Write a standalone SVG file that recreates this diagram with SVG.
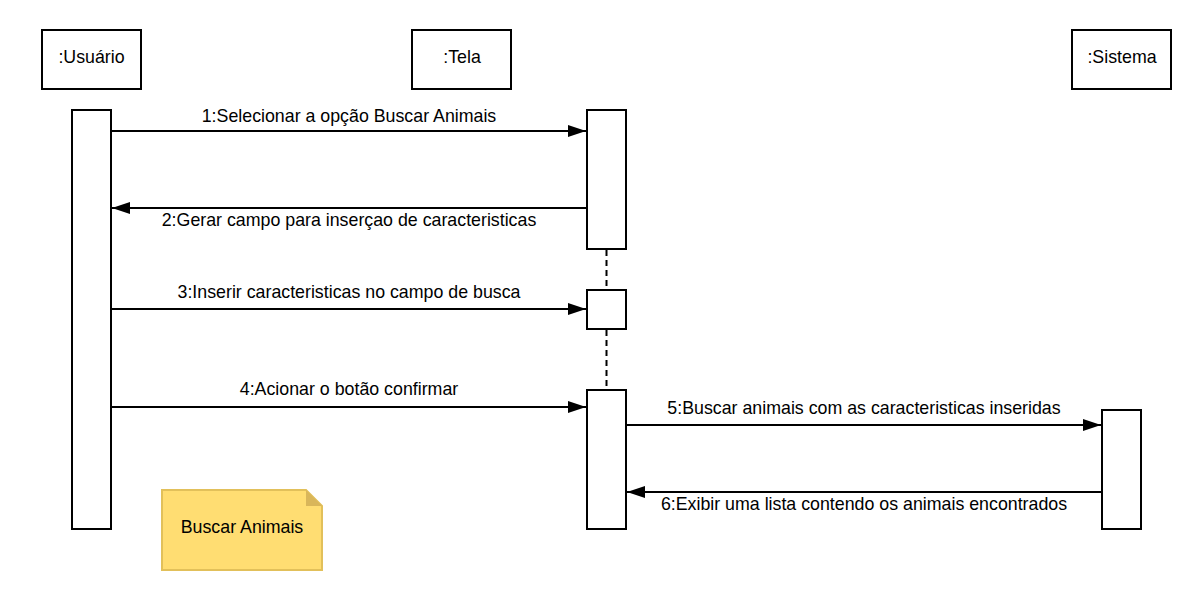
<svg xmlns="http://www.w3.org/2000/svg" width="1192" height="610" viewBox="0 0 1192 610">
<defs>
<style>
.box{fill:#fff;stroke:#000;stroke-width:2}
.t{font-family:"Liberation Sans",Arial,sans-serif;font-size:17.8px;fill:#000;text-anchor:middle}
.msg{stroke:#000;stroke-width:2;fill:none}
.life{stroke:#000;stroke-width:2;stroke-dasharray:6,4;fill:none}
</style>
<marker id="ah" viewBox="0 0 18 12" refX="18" refY="6" markerWidth="18" markerHeight="12" markerUnits="userSpaceOnUse" orient="auto">
<path d="M0,0 L18,6 L0,12 Z" fill="#000"/>
</marker>
</defs>
<rect width="1192" height="610" fill="#fff"/>
<g id="usuario">
<rect class="box" x="42" y="30" width="99" height="59"/>
<text class="t" x="91.5" y="63">:Usuário</text>
<rect class="box" x="72" y="110" width="39" height="419"/>
</g>
<g id="tela">
<rect class="box" x="412" y="30" width="99" height="59"/>
<text class="t" x="462" y="63">:Tela</text>
<rect class="box" x="587" y="110" width="39" height="139"/>
<rect class="box" x="587" y="290" width="39" height="39"/>
<rect class="box" x="587" y="390" width="39" height="139"/>
</g>
<g id="sistema">
<rect class="box" x="1072" y="30" width="99" height="59"/>
<text class="t" x="1122" y="63">:Sistema</text>
<rect class="box" x="1102" y="410" width="39" height="119"/>
</g>
<g id="note">
<path d="M162,490 L306,490 L322,506 L322,570 L162,570 Z" fill="#FFDD72" stroke="#E2C05A" stroke-width="2"/>
<path d="M306,490 L306,506 L322,506 Z" fill="#D9B65A"/>
<text class="t" x="242" y="533">Buscar Animais</text>
</g>
<g id="connectors">
<line class="life" x1="606.5" y1="250" x2="606.5" y2="290"/>
<line class="life" x1="606.5" y1="330" x2="606.5" y2="390"/>
<line class="msg" x1="112" y1="131" x2="586" y2="131" marker-end="url(#ah)"/>
<line class="msg" x1="586" y1="208" x2="112" y2="208" marker-end="url(#ah)"/>
<line class="msg" x1="112" y1="309" x2="586" y2="309" marker-end="url(#ah)"/>
<line class="msg" x1="112" y1="407" x2="586" y2="407" marker-end="url(#ah)"/>
<line class="msg" x1="627" y1="425" x2="1101" y2="425" marker-end="url(#ah)"/>
<line class="msg" x1="1101" y1="492" x2="627" y2="492" marker-end="url(#ah)"/>
</g>
<g id="labels">
<text class="t" x="349" y="121.5">1:Selecionar a opção Buscar Animais</text>
<text class="t" x="349" y="226">2:Gerar campo para inserçao de caracteristicas</text>
<text class="t" x="349" y="298">3:Inserir caracteristicas no campo de busca</text>
<text class="t" x="349" y="395">4:Acionar o botão confirmar</text>
<text class="t" x="864" y="413.5">5:Buscar animais com as caracteristicas inseridas</text>
<text class="t" x="864" y="510">6:Exibir uma lista contendo os animais encontrados</text>
</g>
</svg>
